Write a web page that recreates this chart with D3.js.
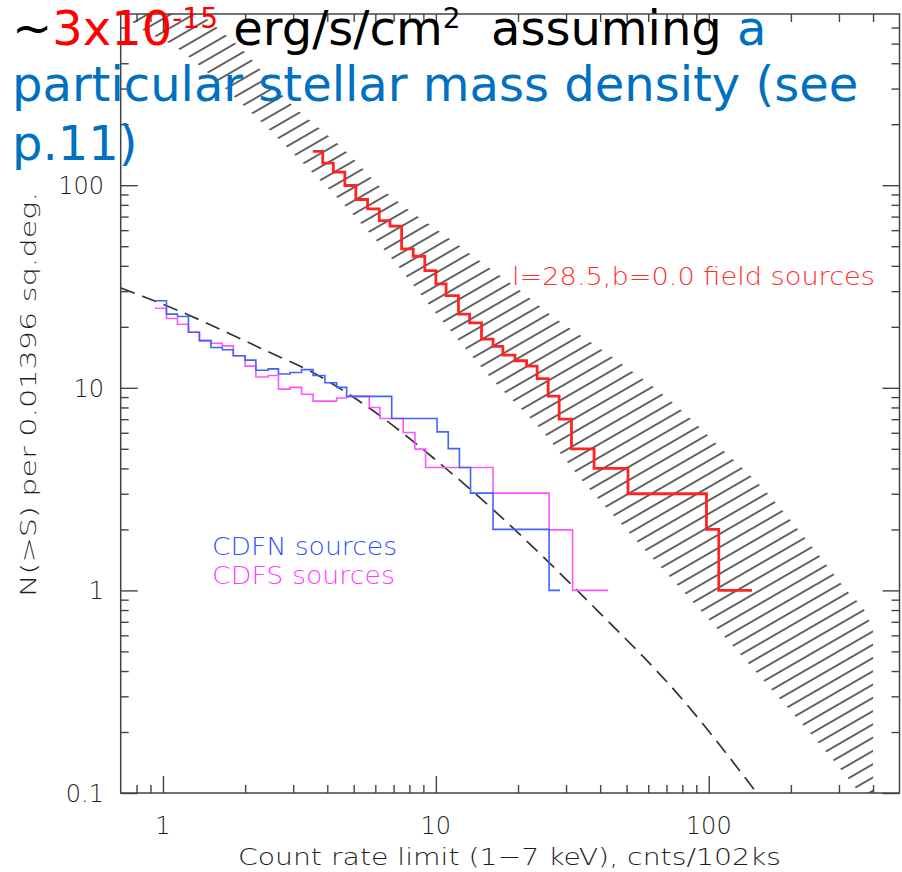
<!DOCTYPE html>
<html>
<head>
<meta charset="utf-8">
<script src="https://cdn.jsdelivr.net/npm/d3@7"></script>
<style>
  body { margin: 0; background: #fff; }
  text { font-family: "DejaVu Sans", sans-serif; }
  .thin { font-weight: 200; }
</style>
</head>
<body>
<div id="chart"></div>
<script>
// CDFN counts (count-rate limit, N(>S))
let cdfnS = [0.935, 1.03, 1.13, 1.24, 1.36, 1.50, 1.65, 1.81, 2.00, 2.19, 2.43, 2.65, 2.92, 3.22, 3.55, 3.92, 4.33, 4.71, 6.89, 10.1, 11.1, 12.2, 13.4, 16.2, 26.0, 28.5];
let cdfnN = [26.9, 23.1, 22.5, 18.8, 17.1, 15.8, 15.4, 14.4, 13.7, 12.2, 12.4, 11.7, 11.9, 12.3, 11.5, 10.6, 10.05, 9.07, 7.06, 6.06, 5.01, 4.04, 3.02, 2.0, 1.0, 1.0];

// CDFS counts
let cdfsS = [0.935, 1.03, 1.13, 1.24, 1.36, 1.50, 1.65, 1.81, 2.00, 2.19, 2.43, 2.65, 2.92, 3.22, 3.55, 4.33, 4.71, 5.70, 6.24, 7.59, 8.38, 9.17, 16.2, 26.0, 31.7, 42.8];
let cdfsN = [24.7, 22.0, 20.6, 18.8, 17.1, 16.6, 16.1, 14.4, 12.8, 11.3, 11.5, 9.85, 10.05, 9.3, 8.6, 8.9, 9.07, 8.0, 7.06, 6.02, 4.98, 4.04, 3.02, 1.99, 1.0, 1.0];

// l=28.5, b=0.0 field sources
let fieldS = [3.54, 3.85, 4.21, 4.64, 5.09, 5.62, 6.20, 6.79, 7.49, 8.26, 9.11, 10.0, 10.9, 12.1, 13.3, 14.7, 16.2, 17.6, 19.5, 21.5, 23.5, 25.8, 28.3, 31.4, 38.0, 50.6, 98.1, 108.8, 144];
let fieldN = [147, 128.6, 116, 99.7, 85, 76.4, 66.9, 62.8, 48.5, 44.6, 37.9, 32.6, 28.5, 23.1, 20.9, 17.4, 16.0, 14.5, 13.6, 12.8, 11.1, 9.1, 7.0, 5.0, 4.0, 3.0, 2.0, 1.0, 1.0];

// dashed extragalactic logN-logS
let modelS = [0.7, 0.86, 1.24, 1.74, 2.5, 3.5, 4.8, 12.2, 38.9, 78.3, 150];
let modelN = [31.1, 28.0, 22.9, 18.6, 14.8, 12.0, 9.3, 3.51, 0.80, 0.30, 0.1];

// hatched prediction band, upper and lower edges
let bandHiS = [1.37, 1.96, 2.85, 4.64, 6.62, 11.25, 20.6, 27.3, 39.2, 71.9, 114.4, 156, 262, 320, 368, 400];
let bandHiN = [700, 465, 263, 149, 91.5, 54.3, 29.8, 22.1, 15.9, 8.71, 4.84, 3.25, 1.41, 1.0, 0.816, 0.637];
let bandLoS = [0.702, 0.845, 1.154, 3.87, 6.33, 9.92, 16.0, 24.0, 34.2, 51.4, 84.0, 128, 193, 285, 400];
let bandLoN = [716, 583, 465, 102, 49.7, 23.7, 11.1, 6.33, 3.51, 1.91, 0.931, 0.498, 0.267, 0.146, 0.0824];

let xTickLabels = ["1", "10", "100"];
let yTickLabels = ["0.1", "1", "10", "100"];

let w = 902;
let h = 872;
let pLeft = 120.7, pRight = 899.5, pTop = 14, pBottom = 793;
let ink = "#1e1e1e";

let x = d3.scaleLog().domain([0.7, 500]).range([pLeft, pRight]);
let y = d3.scaleLog().domain([0.1, 700]).range([pBottom, pTop]);

let svg = d3
  .select("#chart")
  .append("svg")
  .attr("width", w)
  .attr("height", h);

svg.append("rect").attr("width", w).attr("height", h).attr("fill", "#fff");

let defs = svg.append("defs");
defs
  .append("clipPath")
  .attr("id", "plotclip")
  .append("rect")
  .attr("x", pLeft)
  .attr("y", pTop)
  .attr("width", pRight - pLeft)
  .attr("height", pBottom - pTop);

let hatch = defs
  .append("pattern")
  .attr("id", "hatch")
  .attr("patternUnits", "userSpaceOnUse")
  .attr("width", 40)
  .attr("height", 11.5)
  .attr("patternTransform", "rotate(-30)");
hatch
  .append("line")
  .attr("x1", 0)
  .attr("x2", 40)
  .attr("y1", 5.75)
  .attr("y2", 5.75)
  .attr("stroke", "#2a2a2a")
  .attr("stroke-width", 1.5);

let plot = svg.append("g").attr("clip-path", "url(#plotclip)");

// hatched band
let edge = d3
  .line()
  .x((d) => x(d[0]))
  .y((d) => y(d[1]))
  .curve(d3.curveCatmullRom);
let upper = d3.zip(bandHiS, bandHiN);
let lower = d3.zip(bandLoS, bandLoN).reverse();
plot
  .append("path")
  .attr("d", edge(upper) + edge(lower).replace("M", "L") + "Z")
  .attr("fill", "url(#hatch)")
  .attr("stroke", "none");

// dashed model curve
plot
  .append("path")
  .attr("d", edge.curve(d3.curveMonotoneX)(d3.zip(modelS, modelN)))
  .attr("fill", "none")
  .attr("stroke", "#333")
  .attr("stroke-width", 1.7)
  .attr("stroke-dasharray", "15,8");

let step = d3
  .line()
  .x((d) => x(d[0]))
  .y((d) => y(d[1]))
  .curve(d3.curveStepAfter);

function drawSteps(sx, sn, color, width) {
  plot
    .append("path")
    .attr("d", step(d3.zip(sx, sn)))
    .attr("fill", "none")
    .attr("stroke", color)
    .attr("stroke-width", width);
}

drawSteps(cdfsS, cdfsN, "#ff55ff", 1.6);
drawSteps(cdfnS, cdfnN, "#4262ff", 1.6);
drawSteps(fieldS, fieldN, "#ff2424", 2.8);

// ticks on all four sides, pointing inwards
function isMajor(v) {
  return Math.abs(Math.log10(v) - Math.round(Math.log10(v))) < 1e-6;
}
let xt = x.ticks().filter((v) => v > 0.7 && v < 500);
let yt = y.ticks().filter((v) => v > 0.1 && v < 700);
yt.push(0.1);

function ticks(axisFn, scale, values, pos, size) {
  let g = svg
    .append("g")
    .attr("transform", pos)
    .call(axisFn(scale).tickValues(values).tickSize(size).tickFormat(""));
  g.select(".domain").remove();
  g.selectAll(".tick line").attr("stroke", "#444").attr("stroke-width", 1.4);
}

[
  [d3.axisTop, x, xt, `translate(0,${pBottom})`],
  [d3.axisBottom, x, xt, `translate(0,${pTop})`],
  [d3.axisRight, y, yt, `translate(${pLeft},0)`],
  [d3.axisLeft, y, yt, `translate(${pRight},0)`],
].forEach(function (a) {
  ticks(a[0], a[1], a[2].filter(isMajor), a[3], 17);
  ticks(a[0], a[1], a[2].filter((v) => !isMajor(v)), a[3], 8);
});

svg
  .append("rect")
  .attr("x", pLeft)
  .attr("y", pTop)
  .attr("width", pRight - pLeft)
  .attr("height", pBottom - pTop)
  .attr("fill", "none")
  .attr("stroke", "#444")
  .attr("stroke-width", 1.5);

// tick labels
svg
  .selectAll(".xlab")
  .data(xTickLabels)
  .enter()
  .append("text")
  .attr("class", "thin")
  .attr("x", (d) => x(+d))
  .attr("y", 834)
  .attr("text-anchor", "middle")
  .attr("font-size", 24)
  .attr("fill", ink)
  .text((d) => d);

svg
  .selectAll(".ylab")
  .data(yTickLabels)
  .enter()
  .append("text")
  .attr("class", "thin")
  .attr("x", 104)
  .attr("y", (d) => y(+d) + 9)
  .attr("text-anchor", "end")
  .attr("font-size", 24)
  .attr("fill", ink)
  .text((d) => d);

// axis titles
svg
  .append("text")
  .attr("class", "thin")
  .attr("x", 238)
  .attr("y", 865)
  .attr("font-size", 23)
  .attr("fill", ink)
  .attr("textLength", 543)
  .attr("lengthAdjust", "spacingAndGlyphs")
  .text("Count rate limit (1\u22127 keV), cnts/102ks");

svg
  .append("text")
  .attr("class", "thin")
  .attr("transform", "translate(36,597) rotate(-90)")
  .attr("font-size", 22)
  .attr("fill", ink)
  .attr("textLength", 405)
  .attr("lengthAdjust", "spacingAndGlyphs")
  .text("N(>S) per 0.01396 sq.deg.");

// in-plot labels
svg
  .append("text")
  .attr("class", "thin")
  .attr("x", 512)
  .attr("y", 285)
  .attr("font-size", 25)
  .attr("fill", "#ff2e2e")
  .attr("textLength", 363)
  .attr("lengthAdjust", "spacingAndGlyphs")
  .text("l=28.5,b=0.0 field sources");

svg
  .append("text")
  .attr("class", "thin")
  .attr("x", 212)
  .attr("y", 555)
  .attr("font-size", 25)
  .attr("fill", "#2f52ff")
  .attr("textLength", 185)
  .attr("lengthAdjust", "spacingAndGlyphs")
  .text("CDFN sources");

svg
  .append("text")
  .attr("class", "thin")
  .attr("x", 212)
  .attr("y", 584)
  .attr("font-size", 25)
  .attr("fill", "#ff3cff")
  .attr("textLength", 183)
  .attr("lengthAdjust", "spacingAndGlyphs")
  .text("CDFS sources");

// slide annotation on top
let title = svg
  .append("text")
  .attr("x", 12)
  .attr("y", 45)
  .attr("font-size", 48)
  .style("white-space", "pre");
title.append("tspan").attr("fill", "#000").text("~");
title.append("tspan").attr("fill", "#ff0000").text("3x10");
title
  .append("tspan")
  .attr("fill", "#ff0000")
  .attr("font-size", 28)
  .attr("dy", -17)
  .text("-15");
title.append("tspan").attr("fill", "#000").attr("dy", 17).text(" erg/s/cm");
title
  .append("tspan")
  .attr("fill", "#000")
  .attr("font-size", 28)
  .attr("dy", -17)
  .text("2");
title.append("tspan").attr("fill", "#000").attr("dy", 17).text("  assuming ");
title.append("tspan").attr("fill", "#0070c0").text("a");

svg
  .append("text")
  .attr("x", 12)
  .attr("y", 101)
  .attr("font-size", 48)
  .attr("fill", "#0070c0")
  .text("particular stellar mass density (see");

svg
  .append("text")
  .attr("x", 12)
  .attr("y", 160)
  .attr("font-size", 48)
  .attr("fill", "#0070c0")
  .text("p.11)");
</script>
</body>
</html>
